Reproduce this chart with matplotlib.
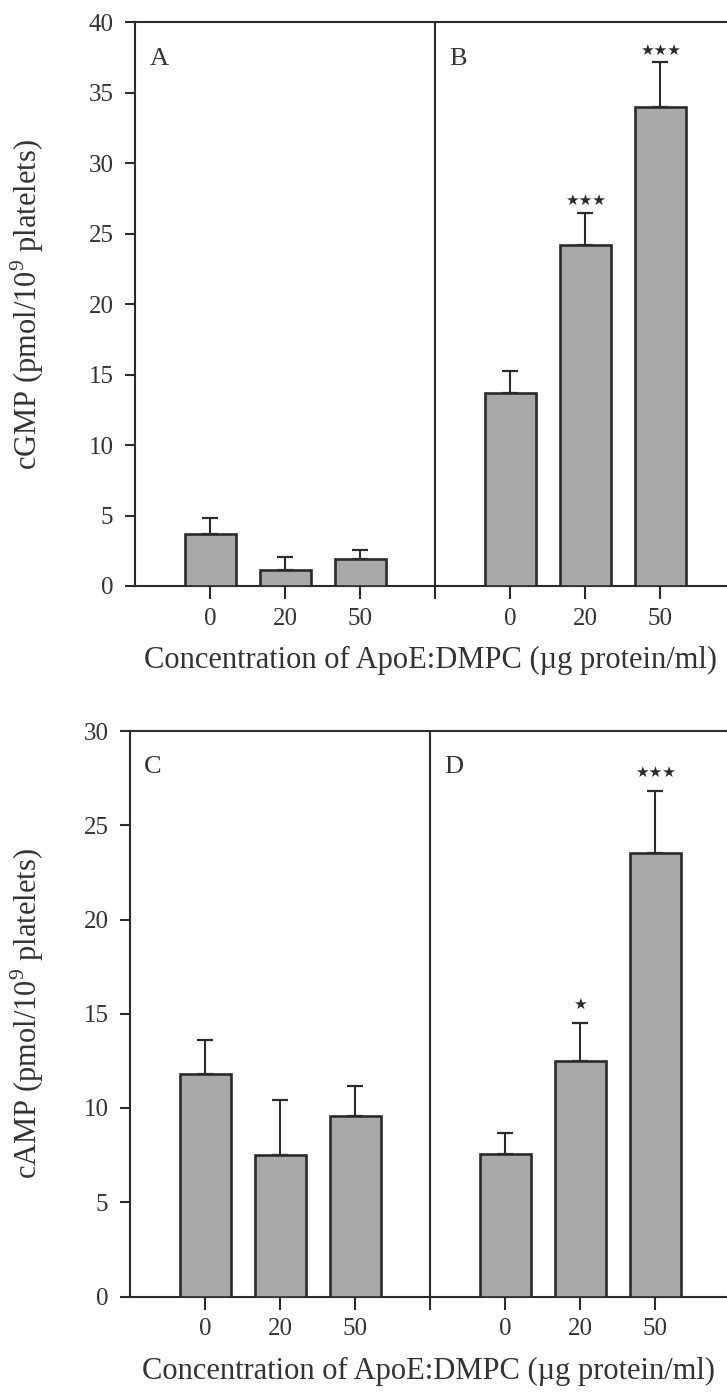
import numpy as np
import matplotlib
matplotlib.use("Agg")
import matplotlib.pyplot as plt

plt.rcParams['font.family'] = ['Liberation Serif', 'DejaVu Serif']
plt.rcParams['mathtext.fontset'] = 'custom'
plt.rcParams['mathtext.rm'] = 'Liberation Serif'

# ---------------- data ----------------
conc_labels = ['0', '20', '50']

cgmp_a = [3.7, 1.1, 1.9]          # panel A
cgmp_a_err = [1.1, 0.95, 0.65]
cgmp_b = [13.7, 24.2, 34.0]       # panel B
cgmp_b_err = [1.55, 2.3, 3.15]
sig_b = ['', '★★★', '★★★']

camp_c = [11.8, 7.5, 9.6]         # panel C
camp_c_err = [1.8, 2.95, 1.55]
camp_d = [7.55, 12.5, 23.55]      # panel D
camp_d_err = [1.15, 2.0, 3.25]
sig_d = ['', '★', '★★★']

dark = '#2b2b2b'
txt = '#333333'
barcol = '#a8a8a8'
W, H = 727, 1394

fig = plt.figure(figsize=(W/100, H/100), dpi=100)


def panel(rect, left_vals, left_err, right_vals, right_err, sig, ymax,
          letters, ylabel, star_off):
    ax = fig.add_axes(rect)
    xl = np.array([1, 2, 3])
    xr = np.array([5, 6, 7])
    for xs, v, e in [(xl, left_vals, left_err), (xr, right_vals, right_err)]:
        ax.errorbar(xs, v, yerr=[np.zeros(3), e], fmt='none', ecolor=dark,
                    elinewidth=1.5, capsize=5.5, capthick=1.6, zorder=2)
        ax.bar(xs, v, width=0.68, color=barcol, edgecolor=dark,
               linewidth=1.9, zorder=3)
    for x, v, e, s in zip(xr, right_vals, right_err, sig):
        if s:
            ax.annotate(s, (x, v + e), xytext=(0, star_off),
                        textcoords='offset points', ha='center', va='bottom',
                        fontsize=11, family='DejaVu Sans', color=dark)
    ax.axvline(4, color=dark, lw=1.5, zorder=1)
    ax.set_xlim(0, rect[2]*W/75.0)
    ax.set_ylim(0, ymax)
    ax.set_yticks(np.arange(0, ymax+1, 5))
    ax.set_xticks([1, 2, 3, 4, 5, 6, 7])
    ax.set_xticklabels(conc_labels + [''] + conc_labels)
    ax.tick_params(axis='y', direction='out', length=7.5, width=1.5,
                   pad=8, labelsize=18, color=dark, labelcolor=txt)
    ax.tick_params(axis='x', direction='out', length=9.5, width=1.5,
                   pad=6, labelsize=18, color=dark, labelcolor=txt)
    ax.spines['right'].set_visible(False)
    for sp in ['left', 'top', 'bottom']:
        ax.spines[sp].set_color(dark)
        ax.spines[sp].set_linewidth(1.5)
    ax.text(0.19, ymax*0.955, letters[0], fontsize=19, va='top', color=txt)
    ax.text(4.19, ymax*0.955, letters[1], fontsize=19, va='top', color=txt)
    ax.text(-(rect[0]*W - 27)/(rect[2]*W), 0.5, ylabel, transform=ax.transAxes,
            rotation=90, ha='center', va='center', fontsize=22, color=txt)
    ax.set_xlabel('Concentration of ApoE:DMPC (µg protein/ml)', fontsize=22,
                  color=txt, labelpad=12)
    return ax


panel([135/W, 1-586/H, 592/W, (586-22.3)/H], cgmp_a, cgmp_a_err,
      cgmp_b, cgmp_b_err, sig_b, 40, ['A', 'B'],
      'cGMP (pmol/10$^{\\mathregular{9}}$ platelets)', 3)
panel([130/W, 1-1296.5/H, 597/W, (1296.5-731)/H], camp_c, camp_c_err,
      camp_d, camp_d_err, sig_d, 30, ['C', 'D'],
      'cAMP (pmol/10$^{\\mathregular{9}}$ platelets)', 8)

fig.savefig('out.png', dpi=100)
